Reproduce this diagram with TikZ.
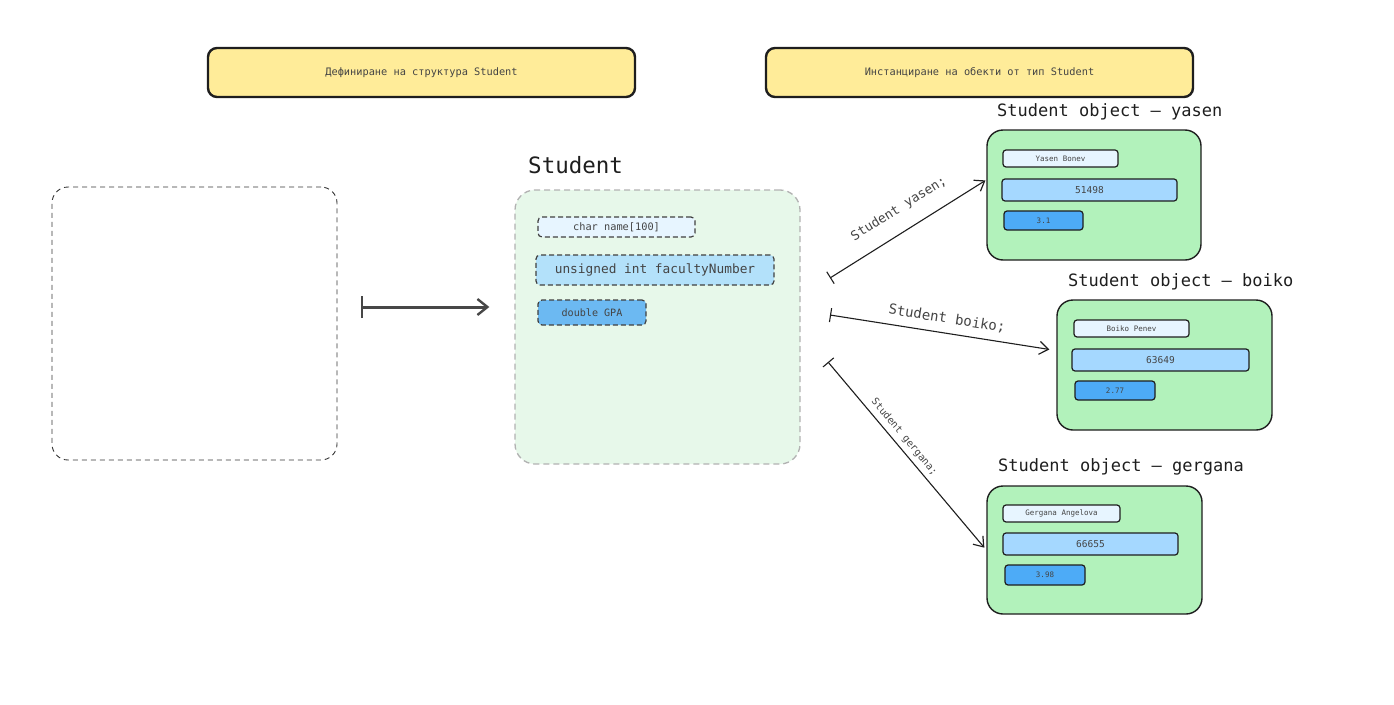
\documentclass[tikz,border=0pt]{standalone}
\usepackage{fontspec}
\setmainfont{DejaVu Sans Mono}
\usetikzlibrary{arrows.meta,calc}
\definecolor{hdrfill}{HTML}{FFEC99}
\definecolor{structfill}{HTML}{E7F8EA}
\definecolor{objfill}{HTML}{B2F2BB}
\definecolor{namefill}{HTML}{E7F5FF}
\definecolor{numfill}{HTML}{A5D8FF}
\definecolor{numfillb}{HTML}{B3E1FA}
\definecolor{gpafill}{HTML}{4DABF7}
\definecolor{gpafillb}{HTML}{6CB9F2}
\definecolor{ink}{HTML}{1E1E1E}
\definecolor{txt}{HTML}{444444}
\tikzset{
  fs/.style={font=\fontsize{#1}{#1}\selectfont},
  hdr/.style={draw=ink, line width=2.4pt, fill=hdrfill, rounded corners=9pt, inner sep=0pt, text=txt, fs=10.3},
  objbox/.style={draw=ink, line width=1.4pt, fill=objfill, rounded corners=16pt, inner sep=0pt, minimum width=214pt, minimum height=130pt},
  fld/.style={draw=ink, line width=1.2pt, rounded corners=3pt, inner sep=0pt, text=txt},
  sfld/.style={draw=ink!85, line width=1.2pt, dash pattern=on 5pt off 3pt, rounded corners=4pt, inner sep=0pt, text=txt},
  ttl/.style={anchor=west, inner sep=0pt, text=ink},
  conn/.style={draw=ink, line width=1.1pt, {Bar[width=14pt]}-{Straight Barb[length=9pt,width=13pt,line width=1.2pt]}},
  lbl/.style={text=txt, sloped, above, inner sep=#1},
  lbl/.default=3pt
}
\begin{document}
\begin{tikzpicture}[x=1pt,y=-1pt]
\useasboundingbox (0,0) rectangle (1394,704);

% headers
\node[hdr, minimum width=427pt, minimum height=49pt] (h1) at (421.5,72.5) {Дефиниране на структура Student};
\node[hdr, minimum width=427pt, minimum height=49pt] (h2) at (979.5,72.5) {Инстанциране на обекти от тип Student};

% left empty dashed box
\node[draw=ink!90, line width=0.9pt, dash pattern=on 5pt off 4pt, rounded corners=16pt, minimum width=285pt, minimum height=273pt, inner sep=0pt] (leftbox) at (194.5,323.5) {};

% struct
\node[ttl, fs=22.5] (stitle) at (528,165) {Student};
\node[draw=black!30, line width=1.3pt, dash pattern=on 6pt off 4pt, fill=structfill, rounded corners=20pt, minimum width=285pt, minimum height=274pt, inner sep=0pt] (struct) at (657.5,327) {};
\node[sfld, fill=namefill, minimum width=157pt, minimum height=20pt, fs=10.3] (sf1) at (616.5,227) {char name[100]};
\node[sfld, fill=numfillb, minimum width=238pt, minimum height=30pt, fs=12.8] (sf2) at (655,270) {unsigned int facultyNumber};
\node[sfld, fill=gpafillb, minimum width=108pt, minimum height=25pt, fs=10.1] (sf3) at (592,312.5) {double GPA};

% middle arrow
\draw[draw=black!72, line width=3pt, {Bar[width=22pt,line width=2pt]}-{Straight Barb[length=10pt,width=16pt,line width=2.4pt]}, shorten <=24pt, shorten >=25pt] ([yshift=16.5pt]leftbox.east) -- ([yshift=20pt]struct.west);

% yasen
\node[ttl, fs=17] (ty) at (997,112) {Student object – yasen};
\node[objbox] (yasen) at (1094,195) {};
\node[fld, fill=namefill, minimum width=115pt, minimum height=17pt, fs=7.5] (yn) at (1060.5,158.5) {Yasen Bonev};
\node[fld, fill=numfill, minimum width=175pt, minimum height=22pt, fs=9.5] (yf) at (1089.5,190) {51498};
\node[fld, fill=gpafill, minimum width=79pt, minimum height=19pt, fs=7.5] (yg) at (1043.5,220.5) {3.1};

% boiko
\node[ttl, fs=17] (tb) at (1068,282) {Student object – boiko};
\node[objbox, minimum width=215pt] (boiko) at (1164.5,365) {};
\node[fld, fill=namefill, minimum width=115pt, minimum height=17pt, fs=7.5] (bn) at (1131.5,328.5) {Boiko Penev};
\node[fld, fill=numfill, minimum width=177pt, minimum height=22pt, fs=9.5] (bf) at (1160.5,360) {63649};
\node[fld, fill=gpafill, minimum width=80pt, minimum height=19pt, fs=7.5] (bg) at (1115,390.5) {2.77};

% gergana
\node[ttl, fs=17] (tg) at (998,467) {Student object – gergana};
\node[objbox, minimum width=215pt, minimum height=128pt] (gergana) at (1094.5,550) {};
\node[fld, fill=namefill, minimum width=117pt, minimum height=17pt, fs=7.5] (gn) at (1061.5,513.5) {Gergana Angelova};
\node[fld, fill=numfill, minimum width=175pt, minimum height=22pt, fs=9.5] (gf) at (1090.5,544) {66655};
\node[fld, fill=gpafill, minimum width=80pt, minimum height=20pt, fs=7.5] (gg) at (1045,575) {3.98};

% connectors
\coordinate (ya0) at (830,278);
\coordinate (bo0) at (830,315);
\coordinate (ge0) at (828,362);
\draw[conn, shorten >=1pt] (ya0) -- node[lbl=15pt, pos=0.515, fs=13] {Student yasen;} ($(yasen.north west)!0.385!(yasen.south west)$);
\draw[conn, shorten >=7pt] (bo0) -- node[lbl=7.5pt, pos=0.507, fs=14] {Student boiko;} ($(boiko.north west)!0.39!(boiko.south west)$);
\draw[conn, shorten >=3pt] (ge0) -- node[lbl=4.5pt, pos=0.433, fs=10] {Student gergana;} (gergana.west);
\end{tikzpicture}
\end{document}
